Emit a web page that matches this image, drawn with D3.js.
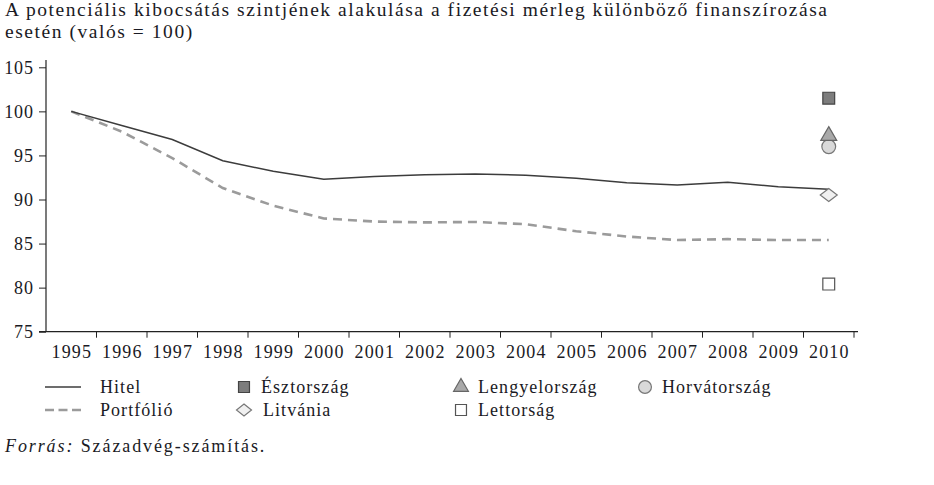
<!DOCTYPE html>
<html><head><meta charset="utf-8">
<script src="https://cdn.jsdelivr.net/npm/d3@7"></script>
<style>
body{margin:0;background:#fff;}
svg text{font-family:"Liberation Serif","Times New Roman",serif;fill:#1a1a24;}
</style></head>
<body><svg id="chart" width="934" height="485"></svg>
<script>
const years = ["1995","1996","1997","1998","1999","2000","2001","2002","2003","2004","2005","2006","2007","2008","2009","2010"];
const hitel = [100,98.4,96.8,94.4,93.2,92.3,92.6,92.8,92.9,92.75,92.4,91.9,91.65,91.95,91.45,91.15];
const portfolio = [100,97.7,94.7,91.3,89.3,87.85,87.5,87.4,87.45,87.2,86.4,85.8,85.4,85.5,85.4,85.4];
const countries = ["Észtország","Lengyelország","Horvátország","Litvánia","Lettorság"];
const countryValues = [101.5,97.0,96.0,90.5,80.4];
const yTicks = [75,80,85,90,95,100,105];
const titleLines = ["A potenciális kibocsátás szintjének alakulása a fizetési mérleg különböző finanszírozása","esetén (valós = 100)"];

const svg = d3.select("#chart");
const x = d3.scaleBand().domain(years).range([46,854]);
const xc = d => x(d) + x.bandwidth()/2;
const y = d3.scaleLinear().domain([75,105]).range([331.7,67.3]);

// title
svg.append("g").selectAll("text").data(titleLines).join("text")
  .attr("x",5).attr("y",(d,i)=>16+i*21.5)
  .style("font-size","19.5px").style("letter-spacing","1.55px").text(d=>d);

// axes
const yAxis = d3.axisLeft(y).tickValues(yTicks).tickSize(7).tickPadding(6);
const gy = svg.append("g").attr("transform","translate(46,0)").call(yAxis);
gy.select(".domain").attr("d","M0,60V331.7");
const xAxis = d3.axisBottom(x).tickSize(0).tickPadding(14);
const gx = svg.append("g").attr("transform","translate(0,331.7)").call(xAxis);
gx.select(".domain").attr("d","M39,0H858");
gx.selectAll("line.bound").data(years.slice(1).concat(["end"])).join("line")
  .attr("class","bound")
  .attr("x1",d=>d==="end"?854:x(d)).attr("x2",d=>d==="end"?854:x(d))
  .attr("y1",0).attr("y2",6).attr("stroke","#222");
svg.selectAll(".domain").attr("stroke","#222").attr("stroke-width",1.2);
svg.selectAll(".tick line").attr("stroke","#222");
svg.selectAll(".tick text").style("font-size","18px").attr("fill","#1a1a24");
gx.selectAll(".tick text").style("letter-spacing","1.1px").attr("dx","0.55px");
gy.selectAll(".tick text").style("letter-spacing","0.9px").attr("dx","0.9px");

// lines
const line = d3.line().x((d,i)=>xc(years[i])).y(d=>y(d));
svg.append("path").datum(portfolio).attr("d",line).attr("fill","none")
  .attr("stroke","#9b9b9b").attr("stroke-width",2.6).attr("stroke-dasharray","9,6");
svg.append("path").datum(hitel).attr("d",line).attr("fill","none")
  .attr("stroke","#3c3c3c").attr("stroke-width",1.5);

// wide diamond
const wideDiamond = (w,h)=>`M0,${-h/2}L${w/2},0L0,${h/2}L${-w/2},0Z`;
const styles = {
  "Észtország":{path:d3.symbol().type(d3.symbolSquare).size(140)(),fill:"#7d7d7d",stroke:"#444",dy:0},
  "Lengyelország":{path:d3.symbol().type(d3.symbolTriangle).size(110)(),fill:"#a9a9a9",stroke:"#666",dy:-2},
  "Horvátország":{path:d3.symbol().type(d3.symbolCircle).size(150)(),fill:"#d9d9d9",stroke:"#777",dy:0},
  "Litvánia":{path:wideDiamond(17,13),fill:"#f0f0f0",stroke:"#777",dy:0},
  "Lettorság":{path:d3.symbol().type(d3.symbolSquare).size(140)(),fill:"#ffffff",stroke:"#555",dy:0}
};
[2,1,0,3,4].forEach(i=>{
  const s = styles[countries[i]];
  svg.append("path").attr("d",s.path)
    .attr("transform",`translate(${xc("2010")},${y(countryValues[i])+s.dy})`)
    .attr("fill",s.fill).attr("stroke",s.stroke).attr("stroke-width",1.2);
});

// legend
const legStyles = {
  "Észtország":d3.symbol().type(d3.symbolSquare).size(120)(),
  "Lengyelország":d3.symbol().type(d3.symbolTriangle).size(95)(),
  "Horvátország":d3.symbol().type(d3.symbolCircle).size(130)(),
  "Litvánia":wideDiamond(15,12),
  "Lettorság":d3.symbol().type(d3.symbolSquare).size(120)()
};
const leg = svg.append("g").style("font-size","18px").style("letter-spacing","1.05px");
const legItems = [
  {label:"Hitel",kind:"solid",x:45,y:393},
  {label:"Portfólió",kind:"dash",x:45,y:416},
  {label:countries[0],kind:"sym",x:244,y:393},
  {label:countries[3],kind:"sym",x:244,y:416},
  {label:countries[1],kind:"sym",x:461,y:393},
  {label:countries[4],kind:"sym",x:461,y:416},
  {label:countries[2],kind:"sym",x:645,y:393}
];
legItems.forEach(it=>{
  if(it.kind==="solid"){
    leg.append("line").attr("x1",it.x).attr("x2",it.x+36).attr("y1",it.y-6).attr("y2",it.y-6).attr("stroke","#3c3c3c").attr("stroke-width",1.5);
    leg.append("text").attr("x",100).attr("y",it.y).text(it.label);
  } else if(it.kind==="dash"){
    leg.append("line").attr("x1",it.x).attr("x2",it.x+36).attr("y1",it.y-6).attr("y2",it.y-6).attr("stroke","#9b9b9b").attr("stroke-width",2.6).attr("stroke-dasharray","9,4.5");
    leg.append("text").attr("x",100).attr("y",it.y).text(it.label);
  } else {
    const s = styles[it.label];
    leg.append("path").attr("d",legStyles[it.label])
      .attr("transform",`translate(${it.x},${it.y-6})`).attr("fill",s.fill).attr("stroke",s.stroke).attr("stroke-width",1.2);
    leg.append("text").attr("x",it.x+(it.label==="Litvánia"?19:17)).attr("y",it.y).text(it.label);
  }
});

// source
const src = svg.append("text").attr("x",5).attr("y",452).style("font-size","18px").style("letter-spacing","1.9px");
src.append("tspan").style("font-style","italic").text("Forrás:");
src.append("tspan").text(" Századvég-számítás.");
</script></body></html>
